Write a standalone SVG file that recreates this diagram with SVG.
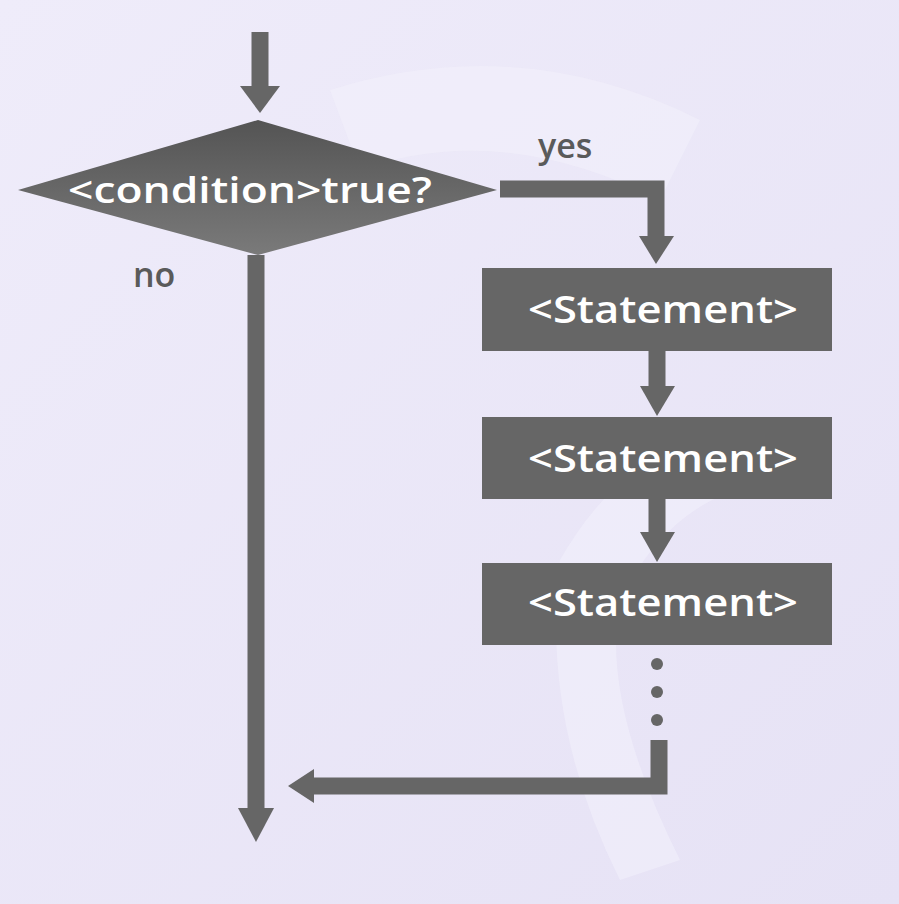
<svg xmlns="http://www.w3.org/2000/svg" width="899" height="904" viewBox="0 0 899 904">
<defs>
<linearGradient id="bg" x1="0" y1="0" x2="1" y2="1">
<stop offset="0" stop-color="#efecfa"/>
<stop offset="1" stop-color="#e6e2f5"/>
</linearGradient>
<linearGradient id="dia" x1="0" y1="0" x2="0" y2="1">
<stop offset="0" stop-color="#545454"/>
<stop offset="1" stop-color="#7a7a7a"/>
</linearGradient>
<style>
.shape{fill:#666666}
.line{fill:none;stroke:#666666;stroke-width:17}
.head{fill:#666666}
.lbl{font-family:"Open Sans","Liberation Sans",sans-serif;font-weight:600;fill:#ffffff;text-anchor:middle}
.side{font-family:"Open Sans","Liberation Sans",sans-serif;font-weight:600;fill:#5a5a5a;font-size:34px}
</style>
</defs>
<rect width="899" height="904" fill="url(#bg)"/>
<path d="M330 90 Q520 30 700 120 L660 200 Q500 120 360 170 Z" fill="#f3f1fb" opacity="0.5"/>
<path d="M560 560 Q640 420 780 430 L800 480 Q680 480 620 600 Q600 700 680 860 L620 880 Q540 720 560 560 Z" fill="#f2f0fb" opacity="0.6"/>
<g id="connectors">
<line class="line" x1="260" y1="32" x2="260" y2="90"/>
<polygon class="head" points="240,86 280,86 260,113"/>
<polyline class="line" points="500,189 656,189 656,240"/>
<polygon class="head" points="639,236 674,236 656,264"/>
<line class="line" x1="657" y1="350" x2="657" y2="390"/>
<polygon class="head" points="640,386 675,386 657,416"/>
<line class="line" x1="657" y1="498" x2="657" y2="535"/>
<polygon class="head" points="640,532 675,532 657,562"/>
<line class="line" x1="256" y1="255" x2="256" y2="812"/>
<polygon class="head" points="238,808 274,808 256,842"/>
<polyline class="line" points="659,740 659,786 310,786"/>
<polygon class="head" points="314,769 314,803 288,786"/>
<circle class="head" cx="657" cy="664" r="6"/>
<circle class="head" cx="657" cy="692" r="6"/>
<circle class="head" cx="657" cy="720" r="6"/>
</g>
<g id="decision">
<polygon points="18,190 258,120 497,190 258,255" fill="url(#dia)"/>
<text class="lbl" x="250" y="203" font-size="36" textLength="364" lengthAdjust="spacingAndGlyphs">&lt;condition&gt;true?</text>
</g>
<g id="label-yes"><text class="side" x="538" y="158">yes</text></g>
<g id="label-no"><text class="side" x="133" y="287">no</text></g>
<g id="statement1">
<rect class="shape" x="482" y="268" width="350" height="83"/>
<text class="lbl" x="663" y="323" font-size="38" textLength="270" lengthAdjust="spacingAndGlyphs">&lt;Statement&gt;</text>
</g>
<g id="statement2">
<rect class="shape" x="482" y="417" width="350" height="82"/>
<text class="lbl" x="663" y="472" font-size="38" textLength="270" lengthAdjust="spacingAndGlyphs">&lt;Statement&gt;</text>
</g>
<g id="statement3">
<rect class="shape" x="482" y="563" width="350" height="82"/>
<text class="lbl" x="663" y="616" font-size="38" textLength="270" lengthAdjust="spacingAndGlyphs">&lt;Statement&gt;</text>
</g>
</svg>
